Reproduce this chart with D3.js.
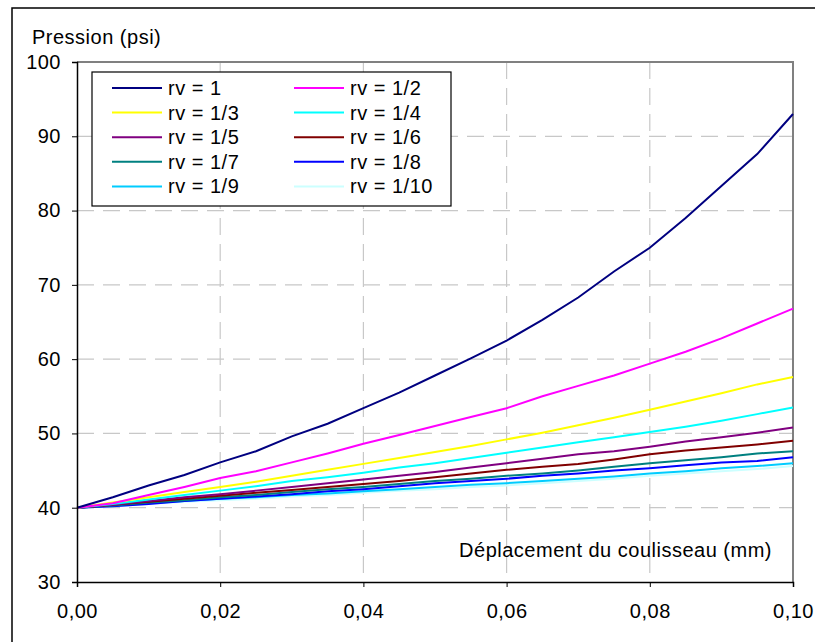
<!DOCTYPE html>
<html>
<head>
<meta charset="utf-8">
<script src="https://cdn.jsdelivr.net/npm/d3@7/dist/d3.min.js"></script>
<style>
  body { margin: 0; background: #fff; }
  svg { font-family: "Liberation Sans", Arial, sans-serif; letter-spacing: 0.5px; }
</style>
</head>
<body>
<div id="chart"></div>
<script>
const xValues = [0, 0.005, 0.01, 0.015, 0.02, 0.025, 0.03, 0.035, 0.04, 0.045, 0.05,
    0.055, 0.06, 0.065, 0.07, 0.075, 0.08, 0.085, 0.09, 0.095, 0.1];

const rv1 = [40, 41.4, 43.0, 44.4, 46.1, 47.6, 49.6, 51.3, 53.4, 55.5, 57.8,
    60.1, 62.5, 65.3, 68.3, 71.8, 75.0, 79.0, 83.3, 87.6, 93.0];
const rv2 = [40, 40.6, 41.7, 42.8, 44.0, 44.9, 46.1, 47.3, 48.6, 49.8, 51.0,
    52.2, 53.4, 55.0, 56.4, 57.8, 59.4, 61.0, 62.8, 64.8, 66.8];
const rv3 = [40, 40.7, 41.4, 42.1, 42.8, 43.5, 44.3, 45.1, 45.9, 46.7, 47.5,
    48.3, 49.2, 50.1, 51.1, 52.1, 53.2, 54.3, 55.4, 56.6, 57.6];
const rv4 = [40, 40.5, 41.1, 41.7, 42.3, 42.9, 43.6, 44.1, 44.7, 45.4, 46.0,
    46.7, 47.4, 48.1, 48.8, 49.5, 50.2, 50.9, 51.7, 52.6, 53.5];
const rv5 = [40, 40.4, 40.9, 41.4, 41.8, 42.3, 42.8, 43.3, 43.8, 44.3, 44.8,
    45.4, 46.0, 46.6, 47.2, 47.6, 48.2, 48.9, 49.5, 50.1, 50.8];
const rv6 = [40, 40.4, 40.8, 41.2, 41.6, 42.0, 42.4, 42.8, 43.2, 43.6, 44.1,
    44.6, 45.1, 45.5, 45.9, 46.5, 47.2, 47.7, 48.1, 48.5, 49.0];
const rv7 = [40, 40.3, 40.7, 41.0, 41.4, 41.7, 42.1, 42.5, 42.8, 43.2, 43.6,
    43.9, 44.3, 44.6, 45.0, 45.5, 46.0, 46.4, 46.8, 47.3, 47.6];
const rv8 = [40, 40.2, 40.5, 40.9, 41.2, 41.5, 41.8, 42.2, 42.5, 42.9, 43.3,
    43.6, 43.9, 44.3, 44.6, 45.0, 45.3, 45.7, 46.1, 46.3, 46.8];
const rv9 = [40, 40.3, 40.6, 40.9, 41.2, 41.4, 41.7, 41.9, 42.2, 42.5, 42.8,
    43.1, 43.3, 43.6, 43.9, 44.2, 44.6, 44.9, 45.3, 45.6, 46.0];
const rv10 = [40, 40.2, 40.5, 40.8, 41.0, 41.2, 41.5, 41.7, 42.0, 42.3, 42.5,
    42.8, 43.0, 43.3, 43.6, 43.9, 44.3, 44.6, 44.9, 45.2, 45.6];

const seriesNames = ['rv = 1', 'rv = 1/2', 'rv = 1/3', 'rv = 1/4', 'rv = 1/5',
    'rv = 1/6', 'rv = 1/7', 'rv = 1/8', 'rv = 1/9', 'rv = 1/10'];
const seriesValues = [rv1, rv2, rv3, rv4, rv5, rv6, rv7, rv8, rv9, rv10];
const seriesColors = ['#000080', '#ff00ff', '#ffff00', '#00ffff', '#800080',
    '#800000', '#008080', '#0000ff', '#00ccff', '#ccffff'];

const xTicks = [0, 0.02, 0.04, 0.06, 0.08, 0.1];
const yTicks = [30, 40, 50, 60, 70, 80, 90, 100];

const width = 815;
const height = 642;
const margin = { top: 62, right: 22, bottom: 60, left: 77 };
const fontSize = 20;

const svg = d3.select('#chart').append('svg')
    .attr('width', width)
    .attr('height', height);

// outer chart frame
svg.append('rect')
    .attr('x', 12)
    .attr('y', 8)
    .attr('width', width)
    .attr('height', height)
    .attr('fill', 'none')
    .attr('stroke', '#000')
    .attr('stroke-width', 1.5);

const x = d3.scaleLinear().domain([0, 0.1]).range([margin.left, width - margin.right]);
const y = d3.scaleLinear().domain([30, 100]).range([height - margin.bottom, margin.top]);

// gridlines
svg.append('g')
    .selectAll('line')
    .data(yTicks.filter(d => d > 30 && d < 100))
    .join('line')
    .attr('x1', x(0))
    .attr('x2', x(0.1))
    .attr('y1', d => y(d))
    .attr('y2', d => y(d))
    .attr('stroke', '#c8c8c8')
    .attr('stroke-width', 1.2)
    .attr('stroke-dasharray', '17,9');

svg.append('g')
    .selectAll('line')
    .data(xTicks.filter(d => d > 0 && d < 0.1))
    .join('line')
    .attr('x1', d => x(d))
    .attr('x2', d => x(d))
    .attr('y1', y(100))
    .attr('y2', y(30))
    .attr('stroke', '#c8c8c8')
    .attr('stroke-width', 1.2)
    .attr('stroke-dasharray', '17,9');

// top and right border of the plot area
svg.append('path')
    .attr('d', `M${x(0)},${y(100)}H${x(0.1)}V${y(30)}`)
    .attr('fill', 'none')
    .attr('stroke', '#808080')
    .attr('stroke-width', 2);

// series
const line = d3.line()
    .x((d, i) => x(xValues[i]))
    .y(d => y(d));

svg.append('g')
    .selectAll('path')
    .data(seriesValues.map((v, i) => ({ v, c: seriesColors[i] })).reverse())
    .join('path')
    .attr('d', d => line(d.v))
    .attr('fill', 'none')
    .attr('stroke', d => d.c)
    .attr('stroke-width', 2);

// axes
const xAxis = d3.axisBottom(x)
    .tickValues(xTicks)
    .tickFormat(d => d3.format('.2f')(d).replace('.', ','))
    .tickSize(5)
    .tickPadding(17);

const yAxis = d3.axisLeft(y)
    .tickValues(yTicks)
    .tickSize(5)
    .tickPadding(11);

svg.append('g')
    .attr('transform', `translate(0,${y(30)})`)
    .call(xAxis)
    .call(g => g.select('.domain').attr('stroke', '#000').attr('stroke-width', 1.5))
    .call(g => g.selectAll('.tick line').attr('stroke', '#000'))
    .call(g => g.selectAll('text').attr('font-size', fontSize).attr('fill', '#000'));

svg.append('g')
    .attr('transform', `translate(${x(0)},0)`)
    .call(yAxis)
    .call(g => g.select('.domain').attr('stroke', '#000').attr('stroke-width', 1.5))
    .call(g => g.selectAll('.tick line').attr('stroke', '#000'))
    .call(g => g.selectAll('text').attr('font-size', fontSize).attr('fill', '#000'));

// axis titles
svg.append('text')
    .attr('x', 32)
    .attr('y', 44)
    .attr('font-size', fontSize)
    .text('Pression (psi)');

svg.append('text')
    .attr('x', 772)
    .attr('y', 557)
    .attr('text-anchor', 'end')
    .attr('font-size', fontSize)
    .text('Déplacement du coulisseau (mm)');

// legend
const legend = svg.append('g');
legend.append('rect')
    .attr('x', 92)
    .attr('y', 72)
    .attr('width', 359)
    .attr('height', 134)
    .attr('fill', '#fff')
    .attr('stroke', '#000')
    .attr('stroke-width', 1.2);

const items = legend.selectAll('g')
    .data(seriesNames)
    .join('g')
    .attr('transform', (d, i) => `translate(${i % 2 === 0 ? 112 : 294},${88 + Math.floor(i / 2) * 24.6})`);

items.append('line')
    .attr('x1', 0)
    .attr('x2', 50)
    .attr('stroke', (d, i) => seriesColors[i])
    .attr('stroke-width', 2);

items.append('text')
    .attr('x', 56)
    .attr('dy', '0.35em')
    .attr('font-size', fontSize)
    .text(d => d);
</script>
</body>
</html>
